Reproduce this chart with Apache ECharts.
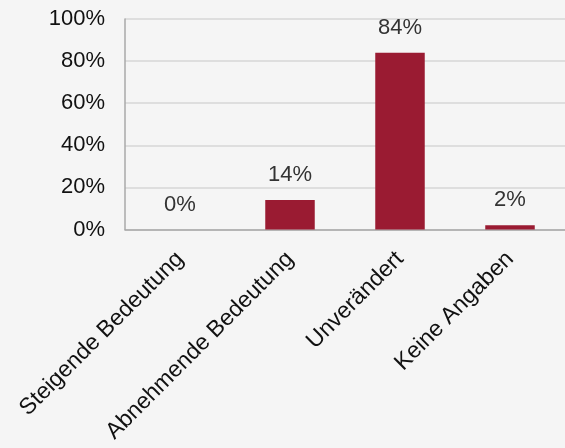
<!DOCTYPE html>
<html><head><meta charset="utf-8">
<script src="https://cdn.jsdelivr.net/npm/echarts@6/dist/echarts.min.js"></script>
<style>html,body{margin:0;padding:0;background:#f5f5f5}#c{width:565px;height:448px}</style>
</head><body><div id="c"></div>
<script>
var categories = ['Steigende Bedeutung', 'Abnehmende Bedeutung', 'Unverändert', 'Keine Angaben'];
var values = [0, 14, 84, 2];
var yTicks = [0, 20, 40, 60, 80, 100];

var chart = echarts.init(document.getElementById('c'), null, {renderer: 'canvas'});
var font = 'Liberation Sans, Arial, sans-serif';
chart.setOption({
  backgroundColor: '#f5f5f5',
  animation: false,
  grid: {left: 125, right: -3, top: 19, bottom: 218.5},
  xAxis: {
    type: 'category', data: categories,
    axisLine: {show: true, lineStyle: {color: '#a8a8a8', width: 1.5}},
    axisTick: {show: false},
    axisLabel: {rotate: 45, interval: 0, color: '#111', fontSize: 23, fontFamily: font, margin: 26}
  },
  yAxis: {
    type: 'value', min: 0, max: 100, interval: 20,
    axisLine: {show: true, lineStyle: {color: '#a8a8a8', width: 1.5}},
    axisTick: {show: false},
    splitLine: {show: true, lineStyle: {color: '#dedede', width: 2}},
    axisLabel: {color: '#111', fontSize: 22, fontFamily: font, margin: 20,
      formatter: function (v) { return yTicks.indexOf(v) >= 0 ? v + '%' : ''; }}
  },
  series: [{
    type: 'bar',
    data: values, barWidth: '45%',
    itemStyle: {color: '#9a1b32'},
    label: {show: true, position: 'top', distance: 14, color: '#333', fontSize: 22, fontFamily: font,
      formatter: function (p) { return p.value + '%'; }}
  }]
});
</script></body></html>
